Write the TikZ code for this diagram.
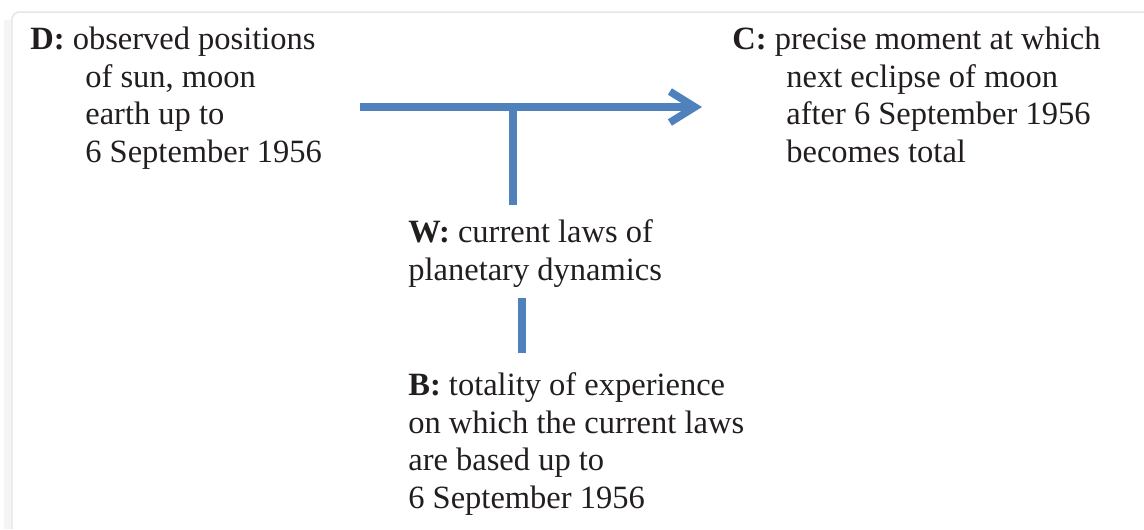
\documentclass[tikz,border=0pt]{standalone}
\usepackage{fontspec}
\setmainfont{Liberation Serif}
\usetikzlibrary{arrows.meta}
\definecolor{lineblue}{RGB}{79,129,189}
\definecolor{txtcol}{RGB}{35,30,30}
\begin{document}
\begin{tikzpicture}[x=0.02cm,y=-0.02cm,
  txt/.style={font=\fontsize{18.5}{21.3}\selectfont, text=txtcol, align=left, inner sep=0, anchor=base west},
  link/.style={draw=lineblue, line width=0.15cm},
  frame/.style={draw=black!10, line width=0.03cm, rounded corners=0.15cm}]
\useasboundingbox (0,0) rectangle (1144,529);
\fill[black!4] (4,20) rectangle (12,529);
\draw[frame] (12,529) -- (12,12) -- (1144,12);
% anchor base west = baseline of the last line
\node[txt] (D) at (30,162) {\textbf{D:} observed positions\\
  \hspace*{1.1cm}of sun, moon\\
  \hspace*{1.1cm}earth up to\\
  \hspace*{1.1cm}6 September 1956};
\node[txt] (C) at (732,162) {\textbf{C:} precise moment at which\\
  \hspace*{1.08cm}next eclipse of moon\\
  \hspace*{1.08cm}after 6 September 1956\\
  \hspace*{1.08cm}becomes total};
\node[txt] (W) at (408,280) {\textbf{W:} current laws of\\planetary dynamics};
\node[txt] (B) at (408,508) {\textbf{B:} totality of experience\\on which the current laws\\are based up to\\6 September 1956};
\coordinate (s) at (360,107);
\coordinate (t) at (702,107);
\coordinate (j) at (513,107);
\coordinate (wj) at (513,205);
\coordinate (w2) at (522,298);
\coordinate (b2) at (522,353);
\draw[link, -{Straight Barb[length=0.5cm, width=0.62cm]}] (s) -- (t);
\draw[link] (j) -- (wj);
\draw[link] (w2) -- (b2);
\end{tikzpicture}
\end{document}
